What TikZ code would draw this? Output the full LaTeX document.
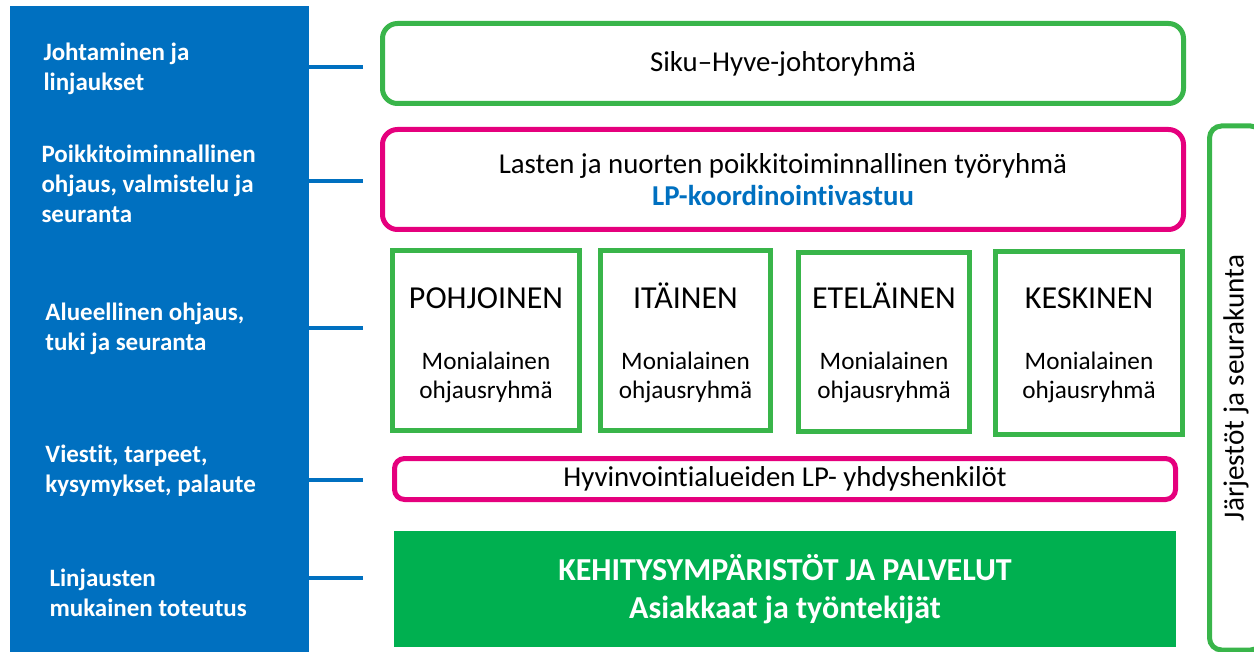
\documentclass[tikz,border=0pt]{standalone}
\usepackage{fontspec}
\setmainfont[Ligatures=NoCommon]{Carlito}
\definecolor{lpblue}{RGB}{0,112,192}
\definecolor{lpgreen}{RGB}{57,181,74}
\definecolor{lpmagenta}{RGB}{229,0,125}
\definecolor{lpfill}{RGB}{0,176,80}

\begin{document}
\begin{tikzpicture}[x=0.5pt, y=-0.5pt, line width=2.5pt,
  leftlab/.style={anchor=west, align=left, inner sep=0pt, text=white,
    font=\bfseries\fontsize{12.5}{15}\selectfont},
  conn/.style={lpblue, line width=1.75pt},
  txt/.style={font=\fontsize{14.4}{16}\selectfont},
  greenbox/.style={draw=lpgreen, rounded corners=7.5pt, inner sep=0pt},
  pinkbox/.style={draw=lpmagenta, rounded corners=7.5pt, inner sep=0pt},
  regbox/.style={draw=lpgreen, inner sep=0pt},
  regtitle/.style={anchor=base, inner sep=0pt, font=\fontsize{16}{18}\selectfont},
  regsub/.style={align=center, inner sep=0pt, font=\fontsize{12.6}{14.5}\selectfont}]

\useasboundingbox (0,0) rectangle (1254,652);

% left column
\node[fill=lpblue, inner sep=0pt, outer sep=0pt,
  minimum width=149.5pt, minimum height=325pt] (col) at (159.5,331) {};

\node[leftlab] (l1) at (41,69) {Johtaminen ja\\linjaukset};
\node[leftlab] (l2) at (39,184) {Poikkitoiminnallinen\\ohjaus, valmistelu ja\\seuranta};
\node[leftlab] (l3) at (43,329) {Alueellinen ohjaus,\\tuki ja seuranta};
\node[leftlab] (l4) at (43,471) {Viestit, tarpeet,\\kysymykset, palaute};
\node[leftlab] (l5) at (47,593) {Linjausten\\mukainen toteutus};

\coordinate (e1) at (363,67);
\coordinate (e2) at (363,181);
\coordinate (e3) at (363,328);
\coordinate (e4) at (363,480);
\coordinate (e5) at (363,578);
\draw[conn] (col.east |- e1) -- (e1);
\draw[conn] (col.east |- e2) -- (e2);
\draw[conn] (col.east |- e3) -- (e3);
\draw[conn] (col.east |- e4) -- (e4);
\draw[conn] (col.east |- e5) -- (e5);

% top rows
\node[greenbox, txt, minimum width=400.5pt, minimum height=40pt] (johto) at (783,63.5)
  {Siku–Hyve-johtoryhmä};
\node[pinkbox, txt, align=center, minimum width=400.5pt, minimum height=50pt] (poikki) at (783,179.5)
  {Lasten ja nuorten poikkitoiminnallinen työryhmä\\{\color{lpblue}\bfseries LP-koordinointivastuu}};

% regions
\node[regbox, minimum width=93.5pt, minimum height=90pt] (poh) at (486,340.5) {};
\node[regtitle] (pohT) at (486,309) {POHJOINEN};
\node[regsub] (pohS) at (486,377) {Monialainen\\ohjausryhmä};

\node[regbox, minimum width=85pt, minimum height=90pt] (ita) at (685.5,340.5) {};
\node[regtitle] (itaT) at (685.5,309) {ITÄINEN};
\node[regsub] (itaS) at (685.5,377) {Monialainen\\ohjausryhmä};

\node[regbox, minimum width=85.5pt, minimum height=89.5pt] (ete) at (884,342) {};
\node[regtitle] (eteT) at (884,309) {ETELÄINEN};
\node[regsub] (eteS) at (884,377) {Monialainen\\ohjausryhmä};

\node[regbox, minimum width=93.5pt, minimum height=91.5pt] (kes) at (1089,343) {};
\node[regtitle] (kesT) at (1089,309) {KESKINEN};
\node[regsub] (kesS) at (1089,377) {Monialainen\\ohjausryhmä};

% bottom rows
\node[pinkbox, txt, rounded corners=5pt, minimum width=390.5pt, minimum height=20.5pt] (yhdys) at (785,479)
  {Hyvinvointialueiden LP- yhdyshenkilöt};
\node[fill=lpfill, inner sep=0pt, align=center, text=white,
  font=\bfseries\fontsize{16}{19}\selectfont,
  minimum width=391pt, minimum height=58pt] (kehitys) at (785,589)
  {KEHITYSYMPÄRISTÖT JA PALVELUT\\Asiakkaat ja työntekijät};

% right side
\node[greenbox, font=\fontsize{14.6}{16}\selectfont, rounded corners=6pt, rotate=90,
  minimum width=262pt, minimum height=26.5pt] (jarj) at (1236,388)
  {Järjestöt ja seurakunta};

\end{tikzpicture}
\end{document}
